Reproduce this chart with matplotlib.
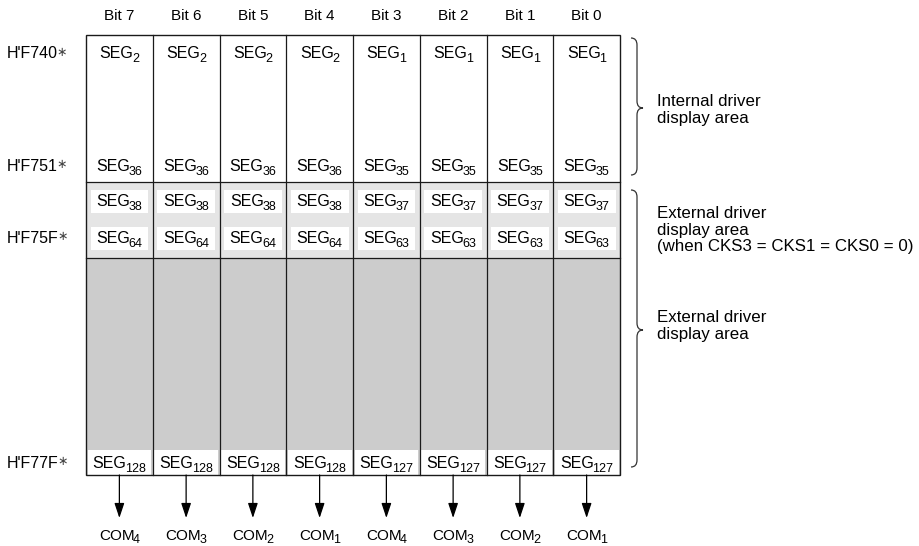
import matplotlib
matplotlib.use('Agg')
import matplotlib.pyplot as plt
from matplotlib.path import Path
import matplotlib.patches as mpatches

plt.rcParams['font.family'] = ['Liberation Sans', 'DejaVu Sans']

# data
bit_labels = ['Bit 7', 'Bit 6', 'Bit 5', 'Bit 4', 'Bit 3', 'Bit 2', 'Bit 1', 'Bit 0']
seg_first = [2, 2, 2, 2, 1, 1, 1, 1]
seg_36 = [36, 36, 36, 36, 35, 35, 35, 35]
seg_38 = [38, 38, 38, 38, 37, 37, 37, 37]
seg_64 = [64, 64, 64, 64, 63, 63, 63, 63]
seg_128 = [128, 128, 128, 128, 127, 127, 127, 127]
com_numbers = [4, 3, 2, 1, 4, 3, 2, 1]
addresses = ["H'F740", "H'F751", "H'F75F", "H'F77F"]
notes = ['Internal driver\ndisplay area',
         'External driver\ndisplay area\n(when CKS3 = CKS1 = CKS0 = 0)',
         'External driver\ndisplay area']

W, H = 919, 546
fig = plt.figure(figsize=(W / 100, H / 100), dpi=100)
ax = fig.add_axes([0, 0, 1, 1])
ax.set_xlim(0, W)
ax.set_ylim(H, 0)
ax.axis('off')
renderer = fig.canvas.get_renderer()


def sub_label(x, y, base, sub, fs=11.5, sfs=9, dy=4, gap=-1.5):
    # base text plus a lowered subscript, placed as one centred group
    t1 = ax.text(0, y, base, fontsize=fs, ha='left', va='baseline')
    t2 = ax.text(0, y + dy, sub, fontsize=sfs, ha='left', va='baseline')
    w1 = t1.get_window_extent(renderer).width
    w2 = t2.get_window_extent(renderer).width
    x0 = x - (w1 + gap + w2) / 2
    t1.set_x(x0)
    t2.set_x(x0 + w1 + gap)


# box geometry (pixels)
left, right = 86, 620
top, y_int, y_ext, bottom = 35, 182, 258, 475
ncol = len(bit_labels)
cw = (right - left) / ncol
centers = [left + cw * (i + 0.5) for i in range(ncol)]

# backgrounds
ax.add_patch(mpatches.Rectangle((left, y_int), right - left, y_ext - y_int,
                                facecolor='#e5e5e5', edgecolor='none'))
ax.add_patch(mpatches.Rectangle((left, y_ext), right - left, bottom - y_ext,
                                facecolor='#cccccc', edgecolor='none'))
for i in range(ncol):
    x0 = left + cw * i
    # white boxes in the light gray band
    for yy in (190, 227):
        ax.add_patch(mpatches.Rectangle((x0 + 4.5, yy), cw - 9, 23,
                                        facecolor='white', edgecolor='none'))
    # white strip at bottom
    ax.add_patch(mpatches.Rectangle((x0 + 1.5, 450), cw - 3, bottom - 450,
                                    facecolor='white', edgecolor='none'))

# grid lines
lc = '#1a1a1a'
ax.add_patch(mpatches.Rectangle((left, top), right - left, bottom - top,
                                facecolor='none', edgecolor=lc, lw=1.0))
for i in range(1, ncol):
    x = left + cw * i
    ax.plot([x, x], [top, bottom], color=lc, lw=0.9)
for y in (y_int, y_ext):
    ax.plot([left, right], [y, y], color=lc, lw=0.9)

for i, c in enumerate(centers):
    ax.text(c, 16, bit_labels[i], ha='center', va='center', fontsize=11)
    sub_label(c, 58.5, 'SEG', str(seg_first[i]))
    sub_label(c, 171, 'SEG', str(seg_36[i]))
    sub_label(c, 206, 'SEG', str(seg_38[i]))
    sub_label(c, 243, 'SEG', str(seg_64[i]))
    sub_label(c, 468, 'SEG', str(seg_128[i]))
    ax.annotate('', xy=(c, 518), xytext=(c, bottom),
                arrowprops=dict(arrowstyle='-|>,head_length=0.9,head_width=0.3',
                                color='black', lw=0.9, shrinkA=0, shrinkB=0))
    sub_label(c, 540, 'COM', str(com_numbers[i]), fs=11, sfs=9, dy=3)

for addr, y in zip(addresses, [58.5, 171, 243, 468]):
    t = ax.text(7, y, addr, ha='left', va='baseline', fontsize=11.5)
    w = t.get_window_extent(renderer).width
    ax.text(7 + w - 1.5, y - 3, '\u2217', ha='left', va='baseline',
            fontsize=9, color='#444444')


def brace(x0, y0, y1, ymid, w=6, tip=6, r=7):
    xs = x0 + w
    verts = [(x0, y0), (xs, y0), (xs, y0 + r),
             (xs, ymid - r),
             (xs, ymid), (xs + tip, ymid), (xs, ymid), (xs, ymid + r),
             (xs, y1 - r),
             (xs, y1), (x0, y1)]
    codes = [Path.MOVETO, Path.CURVE3, Path.CURVE3,
             Path.LINETO,
             Path.CURVE3, Path.CURVE3, Path.CURVE3, Path.CURVE3,
             Path.LINETO,
             Path.CURVE3, Path.CURVE3]
    ax.add_patch(mpatches.PathPatch(Path(verts, codes), facecolor='none',
                                    edgecolor='#333333', lw=0.9))


brace(631, 38, 175, 108)
brace(631, 190, 467, 330)

nfs = 12.2
ax.text(657, 110, notes[0], ha='left', va='center', fontsize=nfs, linespacing=1.1)
ax.text(657, 230, notes[1], ha='left', va='center', fontsize=nfs, linespacing=1.1)
ax.text(657, 326, notes[2], ha='left', va='center', fontsize=nfs, linespacing=1.1)

fig.savefig('out.png', dpi=100, facecolor='white')
